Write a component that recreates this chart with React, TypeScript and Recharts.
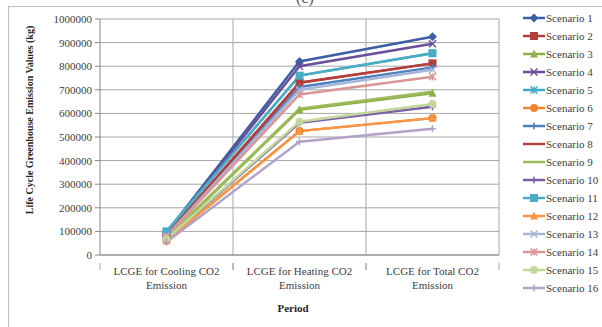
import React from "react";
import { LineChart, Line, XAxis, YAxis, CartesianGrid, Legend } from "recharts";

const categories = [
  "LCGE for Cooling CO2 Emission",
  "LCGE for Heating CO2 Emission",
  "LCGE for Total CO2 Emission",
];

const scenarioNames = [
  "Scenario 1", "Scenario 2", "Scenario 3", "Scenario 4",
  "Scenario 5", "Scenario 6", "Scenario 7", "Scenario 8",
  "Scenario 9", "Scenario 10", "Scenario 11", "Scenario 12",
  "Scenario 13", "Scenario 14", "Scenario 15", "Scenario 16",
];

const coolingValues = [95000, 85000, 70000, 90000, 100000, 60000, 88000, 85000, 72000, 65000, 100000, 60000, 80000, 78000, 68000, 55000];
const heatingValues = [820000, 730000, 615000, 800000, 760000, 525000, 712000, 730000, 620000, 560000, 760000, 525000, 700000, 680000, 565000, 480000];
const totalValues = [925000, 812000, 685000, 895000, 855000, 580000, 795000, 812000, 692000, 628000, 855000, 580000, 785000, 755000, 640000, 535000];

const yTicks = [0, 100000, 200000, 300000, 400000, 500000, 600000, 700000, 800000, 900000, 1000000];

const colors = [
  "#3f5fa5", "#b0403d", "#8db04a", "#6a4f9a",
  "#45aac5", "#f0852f", "#4f81bd", "#b3403d",
  "#9bbb59", "#7a5ea8", "#4bacc6", "#f79646",
  "#a4b5d8", "#d99694", "#c3d69b", "#b3a2c7",
];
const markers = [
  "diamond", "square", "triangle", "x",
  "star", "circle", "plus", "none",
  "none", "plus", "square", "triangle",
  "x", "star", "circle", "plus",
];

const data = categories.map((c, ci) => {
  const row: any = { name: c };
  scenarioNames.forEach((s, i) => {
    row[s] = [coolingValues, heatingValues, totalValues][ci][i];
  });
  return row;
});

const FONT = "'Liberation Serif', 'Times New Roman', serif";

function Mark({ cx, cy, shape, color }: any) {
  if (cx == null || cy == null) return null;
  const r = 3.5;
  switch (shape) {
    case "diamond":
      return <polygon points={`${cx},${cy - r - 1} ${cx + r + 1},${cy} ${cx},${cy + r + 1} ${cx - r - 1},${cy}`} fill={color} />;
    case "square":
      return <rect x={cx - r - 0.5} y={cy - r - 0.5} width={2 * r + 1} height={2 * r + 1} fill={color} />;
    case "triangle":
      return <polygon points={`${cx},${cy - r - 1} ${cx + r + 0.5},${cy + r} ${cx - r - 0.5},${cy + r}`} fill={color} />;
    case "circle":
      return <circle cx={cx} cy={cy} r={r + 0.5} fill={color} />;
    case "x":
      return (
        <g stroke={color} strokeWidth={1.5}>
          <line x1={cx - r} y1={cy - r} x2={cx + r} y2={cy + r} />
          <line x1={cx - r} y1={cy + r} x2={cx + r} y2={cy - r} />
        </g>
      );
    case "star":
      return (
        <g stroke={color} strokeWidth={1.5}>
          <line x1={cx - r} y1={cy - r} x2={cx + r} y2={cy + r} />
          <line x1={cx - r} y1={cy + r} x2={cx + r} y2={cy - r} />
          <line x1={cx} y1={cy - r} x2={cx} y2={cy + r} />
        </g>
      );
    case "plus":
      return (
        <g stroke={color} strokeWidth={1.5}>
          <line x1={cx - r} y1={cy} x2={cx + r} y2={cy} />
          <line x1={cx} y1={cy - r} x2={cx} y2={cy + r} />
        </g>
      );
    default:
      return null;
  }
}

const CategoryTick = (props: any) => {
  const { x, y, payload } = props;
  const words = String(payload.value).split(" ");
  const last = words.pop();
  const half = (payload.offset ?? 66.5);
  return (
    <g>
      <line x1={x - half} y1={y} x2={x - half} y2={y + 7} stroke="#a6a6a6" />
      <line x1={x + half} y1={y} x2={x + half} y2={y + 7} stroke="#a6a6a6" />
      <text x={x} y={y + 12} textAnchor="middle" fontSize={11} fontFamily={FONT} fill="#404040">
        <tspan x={x} dy={0}>{words.join(" ")}</tspan>
        <tspan x={x} dy={14}>{last}</tspan>
      </text>
    </g>
  );
};

const YTitle = () => (
  <text x={33} y={120} transform="rotate(-90 33 120)" textAnchor="middle" fontSize={10} fontWeight="bold" fontFamily={FONT} fill="#262626">
    Life Cycle Greenhouse Emission Values (kg)
  </text>
);

const XTitle = () => (
  <text x={293} y={312} textAnchor="middle" fontSize={11} fontWeight="bold" fontFamily={FONT} fill="#262626">
    Period
  </text>
);

const LegendBox = () => (
  <div style={{ fontFamily: FONT, fontSize: 11, color: "#404040" }}>
    {scenarioNames.map((s, i) => (
      <div key={s} style={{ height: 18, display: "flex", alignItems: "center", whiteSpace: "nowrap" }}>
        <svg width={22} height={12} style={{ marginRight: 1 }}>
          <line x1={0} y1={6} x2={22} y2={6} stroke={colors[i]} strokeWidth={2.5} />
          <Mark cx={11} cy={6} shape={markers[i]} color={colors[i]} />
        </svg>
        <span>{s}</span>
      </div>
    ))}
  </div>
);

export default function App() {
  return (
    <div style={{ position: "absolute", left: 0, top: 0, width: 602, height: 327, overflow: "hidden", background: "#fff" }}>
      <div style={{ position: "absolute", left: 8, top: 6, width: 600, height: 340, border: "1px solid #bfbfbf" }} />
      <div style={{ position: "absolute", left: 296, top: -11, fontFamily: FONT, fontSize: 16, color: "#555" }}>(c)</div>
      <LineChart
        width={602}
        height={327}
        data={data}
        margin={{ top: 19, right: 23, bottom: 42, left: 0 }}
        style={{ position: "absolute", left: 0, top: 0 }}
      >
        <CartesianGrid
          stroke="#a6a6a6"
          strokeWidth={1}
          verticalCoordinatesGenerator={({ offset }: any) => [
            offset.left + offset.width / 3,
            offset.left + (2 * offset.width) / 3,
            offset.left + offset.width,
          ]}
        />
        <XAxis
          dataKey="name"
          scale="band"
          height={30}
          interval={0}
          tick={<CategoryTick />}
          tickLine={false}
          axisLine={{ stroke: "#868686" }}
          label={<XTitle />}
        />
        <YAxis
          width={100}
          domain={[0, 1000000]}
          ticks={yTicks}
          interval={0}
          tickSize={5}
          tickMargin={3}
          tickLine={{ stroke: "#868686" }}
          axisLine={{ stroke: "#868686" }}
          tick={{ fontSize: 11, fontFamily: FONT, fill: "#404040" }}
          label={<YTitle />}
        />
        <Legend
          layout="vertical"
          align="right"
          verticalAlign="top"
          content={<LegendBox />}
          wrapperStyle={{ position: "absolute", left: 523, top: 9, width: 80 }}
        />
        {scenarioNames.map((s, i) => (
          <Line
            key={s}
            dataKey={s}
            stroke={colors[i]}
            strokeWidth={2.5}
            isAnimationActive={false}
            dot={(p: any) => <Mark key={`${s}-${p.index}`} cx={p.cx} cy={p.cy} shape={markers[i]} color={colors[i]} />}
            activeDot={false}
          />
        ))}
      </LineChart>
    </div>
  );
}
